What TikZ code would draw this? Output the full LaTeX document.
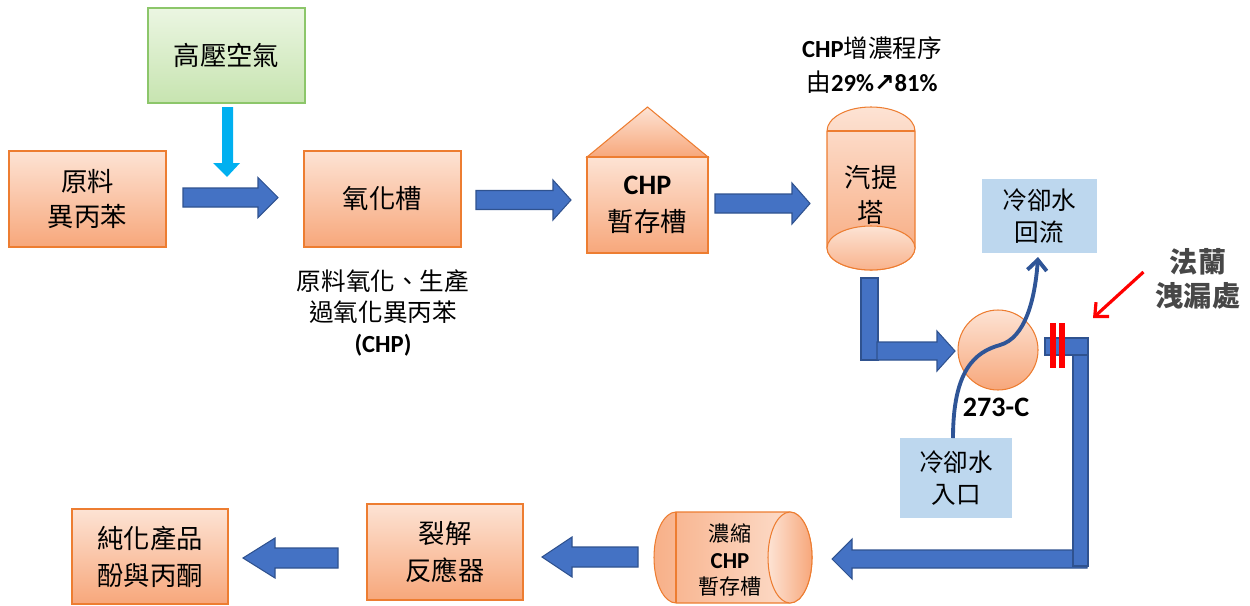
\documentclass[tikz,border=0pt]{standalone}
\usepackage{fontspec}
\setmainfont{Carlito}
\newfontfamily\cjk{Noto Sans CJK TC}
\newfontfamily\symfont{DejaVu Sans}
\usetikzlibrary{arrows.meta,calc}

\definecolor{oline}{HTML}{ED7D31}
\definecolor{otop}{HTML}{FDE3D4}
\definecolor{obot}{HTML}{F7A77B}
\definecolor{gline}{HTML}{8CC66A}
\definecolor{gtop}{HTML}{EBF6E2}
\definecolor{gbot}{HTML}{C7E4B0}
\definecolor{bfill}{HTML}{4472C4}
\definecolor{bline}{HTML}{2F528F}
\definecolor{cyanfill}{HTML}{00B0F0}
\definecolor{water}{HTML}{BDD7EE}
\definecolor{curve}{HTML}{2F5597}

\def\px{0.02cm}

% block arrow pointing along x: tail, head base, tip, centre y, shaft half, head half
\newcommand\hblock[6]{%
  \draw[blk] (#1,#4-#5) -- (#2,#4-#5) -- (#2,#4-#6) -- (#3,#4)
    -- (#2,#4+#6) -- (#2,#4+#5) -- (#1,#4+#5) -- cycle;}

\begin{document}
\begin{tikzpicture}[x=0.02cm,y=-0.02cm,
  cjkfont/.style={font=\cjk\fontsize{15}{19.5}\selectfont},
  obox/.style={draw=oline, line width=0.6pt, top color=otop, bottom color=obot,
    inner sep=0pt, outer sep=0pt, align=center, cjkfont},
  gbox/.style={draw=gline, line width=0.6pt, top color=gtop, bottom color=gbot,
    inner sep=0pt, outer sep=0pt, align=center, cjkfont},
  wbox/.style={fill=water, inner sep=0pt, outer sep=0pt, align=center,
    font=\cjk\fontsize{14}{18}\selectfont},
  oshape/.style={draw=oline, line width=0.6pt, top color=otop, bottom color=obot},
  blk/.style={fill=bfill, draw=bline, line width=0.6pt, line join=miter},
  lbl/.style={align=center, inner sep=0pt},
  ]
\useasboundingbox (0,0) rectangle (1250,605);

% ---------- top row ----------
\node[gbox, minimum width=157*\px, minimum height=95*\px] (air) at (226.5,55.5) {高壓空氣};
\node[obox, minimum width=157*\px, minimum height=96*\px] (feed) at (87.5,199) {原料\\異丙苯};
\node[obox, minimum width=157*\px, minimum height=96*\px] (oxid) at (382.5,199) {氧化槽};

\node[lbl, font=\cjk\fontsize{14}{17.6}\selectfont] (oxnote) at (383,313)
  {原料氧化、生產\\過氧化異丙苯\\{\rmfamily\bfseries (CHP)}};

% CHP buffer tank with roof
\path[oshape] (587,157) -- (647.5,107) -- (708,157) -- cycle;
\node[obox, minimum width=121*\px, minimum height=96*\px,
  font=\cjk\fontsize{15}{21}\selectfont] (buffer) at (647.5,205)
  {{\rmfamily\bfseries\fontsize{16}{21}\selectfont CHP}\\暫存槽};

% stripping tower
\path[oshape] (827,131) -- (827,248) arc[start angle=180, end angle=0, x radius=44, y radius=22]
  -- (915,131) arc[start angle=0, end angle=-180, x radius=44, y radius=24] -- cycle;
\draw[oline, line width=0.6pt] (827,131) -- (915,131);
\path[draw=oline, line width=0.6pt, top color=otop, bottom color=obot!80!otop]
  (871,248) ellipse[x radius=44, y radius=22];
\node[lbl, font=\cjk\fontsize{15}{19.5}\selectfont] (tower) at (871,195) {汽提\\塔};

\node[lbl, font=\cjk\fontsize{14}{19}\selectfont] (enrich) at (872,65)
  {{\rmfamily\bfseries CHP}增濃程序\\由{\rmfamily\bfseries 29\%{\symfont\bfseries ↗}81\%}};

% high-pressure air feed
\fill[cyanfill] (222,107) -- (233,107) -- (233,163) -- (240,163) -- (227,177)
  -- (213,163) -- (222,163) -- cycle;

% main flow arrows
\hblock{183}{258}{278}{197.5}{9.5}{20}
\hblock{476}{553}{571}{200}{9.5}{20}
\hblock{715}{792}{810}{203.5}{9.5}{20.5}

% tower outlet to condenser
\draw[blk] (861,278) rectangle (878,360);
\hblock{877}{937}{955}{351}{9}{20}

% condenser 273-C
\node[circle, draw=oline, line width=0.6pt, top color=otop, bottom color=obot,
  minimum size=80*\px, inner sep=0pt] (hx) at (998,350) {};
\node[lbl, font=\rmfamily\bfseries\fontsize{16}{19}\selectfont] (hxlbl) at (996,407) {273-C};

% cooling water
\node[wbox, minimum width=115*\px, minimum height=74*\px] (ret) at (1039.5,216) {冷卻水\\回流};
\node[wbox, minimum width=112*\px, minimum height=80*\px] (inlet) at (956,478) {冷卻水\\入口};
\draw[curve, line width=2.2pt, -{Straight Barb[length=6pt, width=11pt]}]
  ([xshift=-3*\px]inlet.north) .. controls (953,370) and (975,352) .. (1000,345)
  .. controls (1025,338) and (1035,300) .. ($(ret.south)+(-1.5,4)$);

% condensed CHP return line
\hblock{1087}{852}{832}{559}{9}{20}
\draw[blk] (1073,340) rectangle (1088,566);
\draw[blk] (1045,338) rectangle (1088,355);

% flange leak point
\fill[red] (1050,323) rectangle (1056,368);
\fill[red] (1059,323) rectangle (1065,368);
\node[lbl, text=black!72, font=\cjk\bfseries\fontsize{16}{19.5}\selectfont] (leak) at (1198,279) {法蘭\\洩漏處};
\coordinate (flange) at (1093,318);
\draw[red, line width=1.8pt, -{Straight Barb[length=6pt, width=11pt]}]
  ([xshift=-12*\px, yshift=7*\px]leak.west) -- (flange);

% ---------- bottom row ----------
% concentrated CHP tank (horizontal cylinder)
\path[draw=oline, line width=0.6pt, left color=obot!85!otop, right color=otop]
  (676,512) -- (790,512) arc[start angle=-90, end angle=90, x radius=22, y radius=45.5]
  -- (676,603) arc[start angle=90, end angle=270, x radius=22, y radius=45.5] -- cycle;
\draw[oline, line width=0.6pt] (676,512) -- (676,603);
\path[draw=oline, line width=0.6pt, left color=otop, right color=obot]
  (790,557.5) ellipse[x radius=22, y radius=45.5];
\node[lbl, font=\cjk\fontsize{12}{15.3}\selectfont] (conc) at (730,560)
  {濃縮\\{\rmfamily\bfseries\fontsize{13}{15.3}\selectfont CHP}\\暫存槽};

\node[obox, minimum width=156*\px, minimum height=96*\px,
  font=\cjk\fontsize{15}{21}\selectfont] (crack) at (445,552) {裂解\\反應器};
\node[obox, minimum width=156*\px, minimum height=95*\px,
  font=\cjk\fontsize{15}{21}\selectfont] (prod) at (150,556.5) {純化產品\\酚與丙酮};

\hblock{638}{572}{542}{557}{10}{20}
\hblock{338}{275}{243}{558}{10}{20}

\end{tikzpicture}
\end{document}
